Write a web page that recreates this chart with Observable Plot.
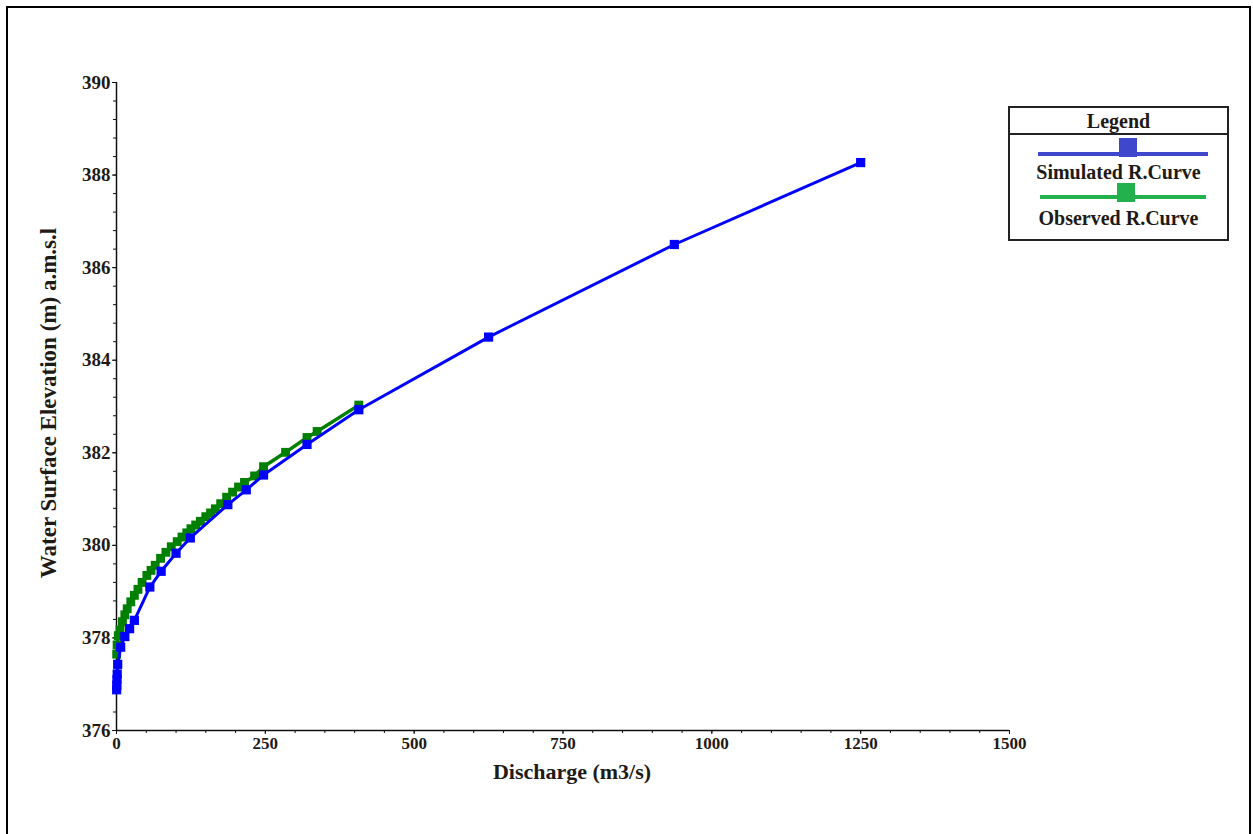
<!DOCTYPE html>
<html><head><meta charset="utf-8">
<script src="https://cdn.jsdelivr.net/npm/d3@7"></script>
<script src="https://cdn.jsdelivr.net/npm/@observablehq/plot@0.6"></script>
<style>
body{margin:0;background:#fff;}
#wrap{position:relative;width:1253px;height:834px;overflow:hidden;font-family:"Liberation Serif","Times New Roman",serif;color:#1e1a16;}
#frame{position:absolute;left:6px;top:6px;width:1245px;height:900px;border:2px solid #000;box-sizing:border-box;}
#chart{position:absolute;left:0;top:0;}
#chart svg text{font-weight:bold;}
.title{position:absolute;font-weight:bold;white-space:nowrap;font-size:22px;line-height:1;}
#xt{left:572px;top:772px;transform:translate(-50%,-50%);}
#yt{left:48px;top:403px;transform:translate(-50%,-50%) rotate(-90deg);font-size:23px;}
#legend{position:absolute;left:1008px;top:106px;width:221px;height:135px;border:2px solid #222;box-sizing:border-box;background:#fff;}
#legend .hdr{position:absolute;left:0;top:0;width:100%;height:25px;border-bottom:2px solid #222;text-align:center;font-weight:bold;font-size:20px;line-height:27px;}
#legend .ln{position:absolute;height:4px;}
#legend .sq{position:absolute;width:18px;height:19px;}
#legend .lb{position:absolute;left:0;width:100%;text-align:center;font-weight:bold;font-size:20px;line-height:1;}
</style>
</head><body>
<div id="wrap">
  <div id="frame"></div>
  <div id="chart"></div>
  <div class="title" id="xt">Discharge (m3/s)</div>
  <div class="title" id="yt">Water Surface Elevation (m) a.m.s.l</div>
  <div id="legend">
    <div class="hdr">Legend</div>
    <div class="ln" style="left:28px;top:44px;width:170px;background:#3f48cc"></div>
    <div class="sq" style="left:109px;top:30px;background:#3f48cc"></div>
    <div class="lb" style="top:54px;">Simulated R.Curve</div>
    <div class="ln" style="left:30px;top:87px;width:166px;background:#22b14c"></div>
    <div class="sq" style="left:107px;top:75px;background:#22b14c"></div>
    <div class="lb" style="top:100px;">Observed R.Curve</div>
  </div>
</div>
<script>
// Simulated rating curve (discharge m3/s, water surface elevation m)
const simQ = [0.3, 0.5, 0.8, 1.2, 2, 7, 14, 22, 30, 56, 75, 100, 124, 187, 218, 247, 320, 407, 625, 937, 1250];
const simH = [376.88, 376.98, 377.1, 377.22, 377.43, 377.8, 378.03, 378.2, 378.38, 379.1, 379.44, 379.83, 380.16, 380.88, 381.2, 381.52, 382.18, 382.93, 384.5, 386.5, 388.27];
// Observed rating curve
const obsQ = [0.3, 1, 3, 6, 10, 14, 18, 24, 30, 36, 43, 51, 58, 65, 74, 83, 92, 102, 110, 118, 125, 133, 141, 150, 158, 166, 175, 185, 195, 205, 215, 232, 247, 284, 320, 337, 407];
const obsH = [377.65, 377.85, 378.05, 378.17, 378.35, 378.5, 378.63, 378.78, 378.92, 379.05, 379.2, 379.35, 379.46, 379.57, 379.72, 379.85, 379.97, 380.08, 380.18, 380.27, 380.36, 380.44, 380.52, 380.62, 380.7, 380.79, 380.9, 381.04, 381.15, 381.26, 381.36, 381.5, 381.7, 382.01, 382.33, 382.46, 383.03];
// Tick labels
const xTicks = [0, 250, 500, 750, 1000, 1250, 1500];
const yTicks = [376, 378, 380, 382, 384, 386, 388, 390];
const xMinor = d3.range(0, 1501, 50);
const yMinor = d3.range(0, 36).map(i => 376 + i * 0.4);

const sim = simQ.map((q, i) => ({q, h: simH[i]}));
const obs = obsQ.map((q, i) => ({q, h: obsH[i]}));

const chart = Plot.plot({
  width: 1253, height: 834,
  marginLeft: 116, marginRight: 244, marginTop: 82, marginBottom: 104,
  x: {domain: [0, 1500]},
  y: {domain: [376, 390]},
  style: {fontFamily: "'Liberation Serif', 'Times New Roman', serif", background: "transparent", color: "#1e1a16"},
  marks: [
    Plot.axisX({ticks: xMinor, tickSize: 3, text: null, label: null, stroke: "#111"}),
    Plot.axisX({ticks: xTicks, tickSize: 4, tickPadding: 2, tickFormat: d => String(d), fontSize: 17, fontWeight: "bold", label: null, stroke: "#111"}),
    Plot.axisY({ticks: yMinor, tickSize: 3, text: null, label: null, stroke: "#111"}),
    Plot.axisY({ticks: yTicks, tickSize: 4, tickPadding: 2, tickFormat: d => String(d), fontSize: 19, fontWeight: "bold", label: null, stroke: "#111"}),
    Plot.ruleX([0], {stroke: "#111", strokeWidth: 1.5}),
    Plot.ruleY([376], {stroke: "#111", strokeWidth: 1.5}),
    Plot.line(obs, {x: "q", y: "h", stroke: "#008000", strokeWidth: 3.5}),
    Plot.dot(obs, {x: "q", y: "h", symbol: "square", r: 5, fill: "#008000"}),
    Plot.line(sim, {x: "q", y: "h", stroke: "#0000ff", strokeWidth: 3}),
    Plot.dot(sim, {x: "q", y: "h", symbol: "square", r: 5.2, fill: "#0000ff"})
  ]
});
document.getElementById("chart").appendChild(chart);
</script>
</body></html>
